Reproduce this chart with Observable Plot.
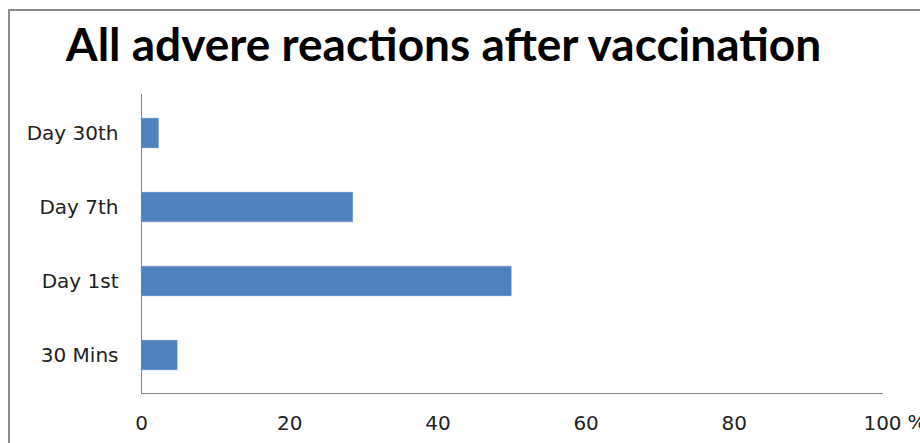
<!DOCTYPE html>
<html><head><meta charset="utf-8">
<script src="https://cdn.jsdelivr.net/npm/d3@7"></script>
<script src="https://cdn.jsdelivr.net/npm/@observablehq/plot@0.6"></script>
<style>
body{margin:0;background:#fff;overflow:hidden;}
#wrap{position:relative;width:920px;height:443px;overflow:hidden;background:#fff;}
#frame{position:absolute;left:8px;top:9px;width:1000px;height:600px;border:2px solid #8c8c8c;box-sizing:border-box;}
#title{position:absolute;left:0;top:19px;width:887px;text-align:center;font-family:Lato,sans-serif;font-weight:bold;font-size:46px;color:#000;line-height:50px;white-space:nowrap;}
#chart{position:absolute;left:0;top:84px;}
</style></head>
<body><div id="wrap"><div id="frame"></div><div id="title">All advere reactions after vaccination</div><div id="chart"></div></div>
<script>
const categories = ["Day 30th", "Day 7th", "Day 1st", "30 Mins"];
const values = [2.4, 28.6, 50, 4.9];
const xTicks = [0, 20, 40, 60, 80, 100];
const unitLabel = "%";
const data = categories.map((c, i) => ({category: c, value: values[i]}));

const plot = Plot.plot({
  width: 920,
  height: 359,
  marginTop: 10,
  marginBottom: 50,
  marginLeft: 141,
  marginRight: 38,
  style: {fontFamily: "'DejaVu Sans', sans-serif", fontSize: "20px", color: "#222", background: "transparent"},
  x: {domain: [0, 100], ticks: xTicks, label: null},
  y: {domain: categories, paddingInner: 0.6, paddingOuter: 0.3, label: null},
  marks: [
    Plot.barX(data, {x: "value", y: "category", fill: "#4f81bd", stroke: "#b9cde5", strokeWidth: 0.5}),
    Plot.frame({anchor: "left", stroke: "#868686"}),
    Plot.frame({anchor: "bottom", stroke: "#868686"}),
    Plot.axisX({ticks: xTicks, tickSize: 0, tickPadding: 22, tickFormat: d => String(d), label: null, fontSize: 20}),
    Plot.axisY({tickSize: 0, tickPadding: 23, label: null, fontSize: 20}),
    Plot.text([unitLabel], {x: () => 100, frameAnchor: "bottom", dy: 29, dx: 25, textAnchor: "start", lineAnchor: "middle", text: d => d, fill: "#222", fontSize: 20})
  ]
});
document.getElementById("chart").appendChild(plot);
</script></body></html>
